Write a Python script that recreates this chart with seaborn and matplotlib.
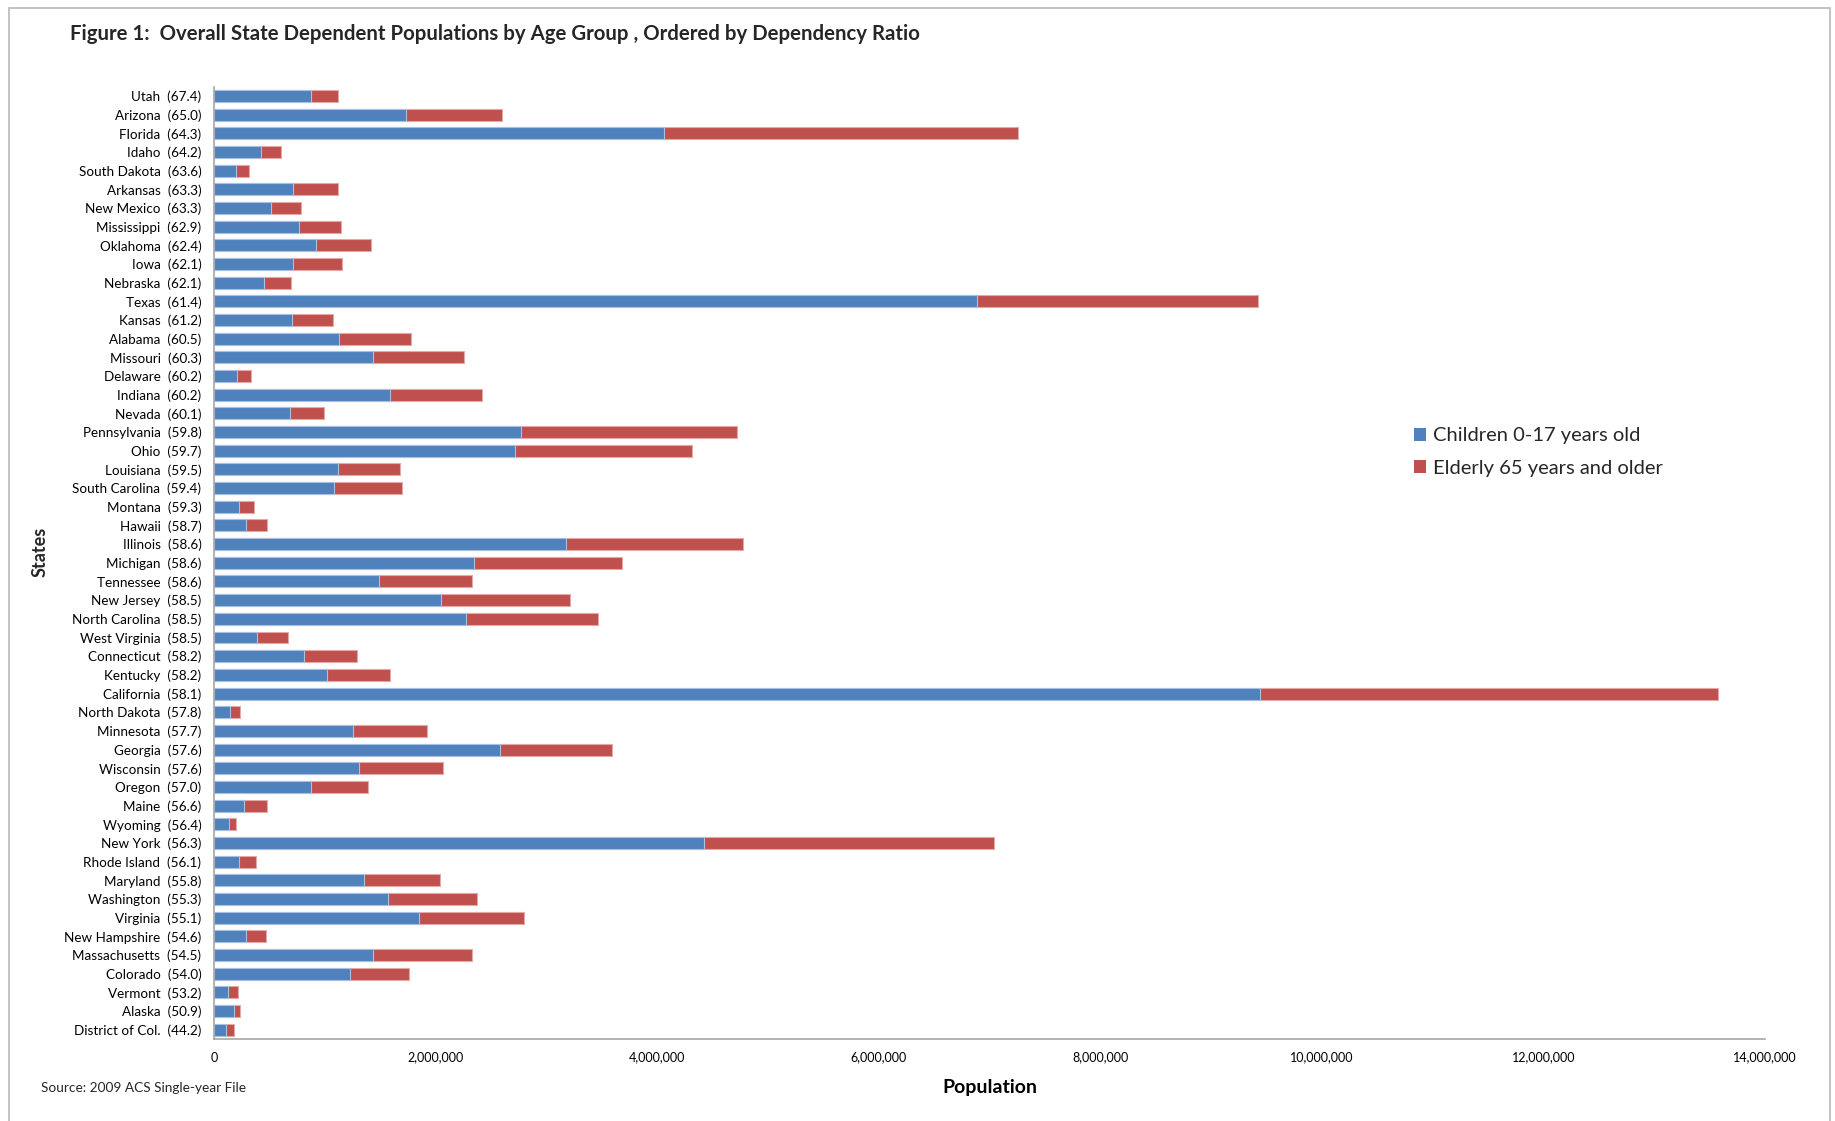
import matplotlib
matplotlib.use("Agg")
import matplotlib.pyplot as plt
from matplotlib.patches import Patch, Rectangle
from matplotlib.ticker import FuncFormatter
import pandas as pd
import seaborn as sns

# States ordered by dependency ratio (highest first)
states = [
    "Utah", "Arizona", "Florida", "Idaho", "South Dakota", "Arkansas", "New Mexico",
    "Mississippi", "Oklahoma", "Iowa", "Nebraska", "Texas", "Kansas", "Alabama",
    "Missouri", "Delaware", "Indiana", "Nevada", "Pennsylvania", "Ohio", "Louisiana",
    "South Carolina", "Montana", "Hawaii", "Illinois", "Michigan", "Tennessee",
    "New Jersey", "North Carolina", "West Virginia", "Connecticut", "Kentucky",
    "California", "North Dakota", "Minnesota", "Georgia", "Wisconsin", "Oregon",
    "Maine", "Wyoming", "New York", "Rhode Island", "Maryland", "Washington",
    "Virginia", "New Hampshire", "Massachusetts", "Colorado", "Vermont", "Alaska",
    "District of Col.",
]

dependency_ratio = [
    67.4, 65.0, 64.3, 64.2, 63.6, 63.3, 63.3, 62.9, 62.4, 62.1, 62.1, 61.4, 61.2,
    60.5, 60.3, 60.2, 60.2, 60.1, 59.8, 59.7, 59.5, 59.4, 59.3, 58.7, 58.6, 58.6,
    58.6, 58.5, 58.5, 58.5, 58.2, 58.2, 58.1, 57.8, 57.7, 57.6, 57.6, 57.0, 56.6,
    56.4, 56.3, 56.1, 55.8, 55.3, 55.1, 54.6, 54.5, 54.0, 53.2, 50.9, 44.2,
]

# Children 0-17 years old
children = [
    874_000, 1_732_000, 4_060_000, 423_000, 201_000, 709_000, 516_000,
    766_000, 923_000, 709_000, 451_000, 6_886_000, 701_000, 1_128_000,
    1_434_000, 205_000, 1_591_000, 689_000, 2_771_000, 2_717_000, 1_124_000,
    1_084_000, 226_000, 290_000, 3_177_000, 2_345_000, 1_491_000,
    2_047_000, 2_276_000, 391_000, 810_000, 1_019_000,
    9_438_000, 141_000, 1_257_000, 2_579_000, 1_309_000, 874_000,
    274_000, 133_000, 4_422_000, 226_000, 1_354_000, 1_571_000,
    1_853_000, 290_000, 1_434_000, 1_225_000, 129_000, 181_000,
    113_000,
]

# Elderly 65 years and older
elderly = [
    250_000, 871_000, 3_200_000, 181_000, 117_000, 415_000, 266_000,
    378_000, 491_000, 447_000, 242_000, 2_538_000, 371_000, 649_000,
    822_000, 129_000, 826_000, 306_000, 1_946_000, 1_597_000, 552_000,
    616_000, 137_000, 189_000, 1_595_000, 1_342_000, 838_000,
    1_168_000, 1_189_000, 278_000, 483_000, 572_000,
    4_140_000, 97_000, 669_000, 1_015_000, 758_000, 512_000,
    201_000, 64_000, 2_621_000, 153_000, 689_000, 802_000,
    947_000, 181_000, 895_000, 536_000, 85_000, 57_000,
    68_000,
]

labels = [f"{s}  ({r:.1f})" for s, r in zip(states, dependency_ratio)]
df = pd.DataFrame({
    "label": labels,
    "children": children,
    "elderly": elderly,
})
df["total"] = df["children"] + df["elderly"]

BLUE = "#4F81BD"
RED = "#C0504D"

sns.set_theme(style="white")
plt.rcParams["font.family"] = ["Lato", "DejaVu Sans"]

fig = plt.figure(figsize=(18.35, 11.21), dpi=100)
ax = fig.add_axes([0.1166, 0.0731, 0.8453, 0.8497])

# Stacked horizontal bars: total (elderly on top of children), then children
sns.barplot(data=df, x="total", y="label", orient="h", color=RED,
            width=0.64, edgecolor="#E3A9A7", linewidth=0.8,
            saturation=1, ax=ax)
sns.barplot(data=df, x="children", y="label", orient="h", color=BLUE,
            width=0.64, edgecolor="#A9C1E0", linewidth=0.8,
            saturation=1, ax=ax)

ax.set_xlim(0, 14_000_000)
ax.set_ylim(len(df) - 0.5, -0.5)
ax.set_xticks(range(0, 14_000_001, 2_000_000))
ax.xaxis.set_major_formatter(FuncFormatter(lambda v, _: f"{v:,.0f}"))

ax.tick_params(axis="y", length=0, pad=9, labelsize=9.7, labelcolor="black")
ax.tick_params(axis="x", length=0, pad=9, labelsize=9, labelcolor="black")

for side in ("top", "right"):
    ax.spines[side].set_visible(False)
for side in ("left", "bottom"):
    ax.spines[side].set_color("#A6A6A6")
    ax.spines[side].set_linewidth(1.2)

ax.set_xlabel("Population", fontsize=14, fontweight="bold", color="black")
ax.xaxis.set_label_coords(0.5, -0.042)
ax.set_ylabel("")
ax.text(-0.1122, 0.511, "States", transform=ax.transAxes, rotation=90,
        ha="center", va="center", fontsize=13, fontweight="bold")

fig.text(70 / 1835, 1 - 34 / 1121,
         "Figure 1:  Overall State Dependent Populations by Age Group , Ordered by Dependency Ratio",
         ha="left", va="center", fontsize=14.7, fontweight="bold")

fig.text(41 / 1835, 1 - 1088 / 1121, "Source: 2009 ACS Single-year File",
         ha="left", va="center", fontsize=9.8)

handles = [Patch(facecolor=BLUE, edgecolor="none", label="Children 0-17 years old"),
           Patch(facecolor=RED, edgecolor="none", label="Elderly 65 years and older")]
fig.legend(handles=handles, loc="center left", bbox_to_anchor=(1414 / 1835, 1 - 452 / 1121),
           frameon=False, fontsize=14.5, handlelength=0.6, handleheight=0.6,
           handletextpad=0.35, labelspacing=0.75, borderpad=0, borderaxespad=0)

# Figure frame
fig.add_artist(Rectangle((9 / 1835, -0.05), (1830 - 9) / 1835, 1.05 - 8 / 1121,
                         transform=fig.transFigure, fill=False,
                         edgecolor="#BDBDBD", linewidth=1.3))

fig.savefig("out.png", dpi=100)
